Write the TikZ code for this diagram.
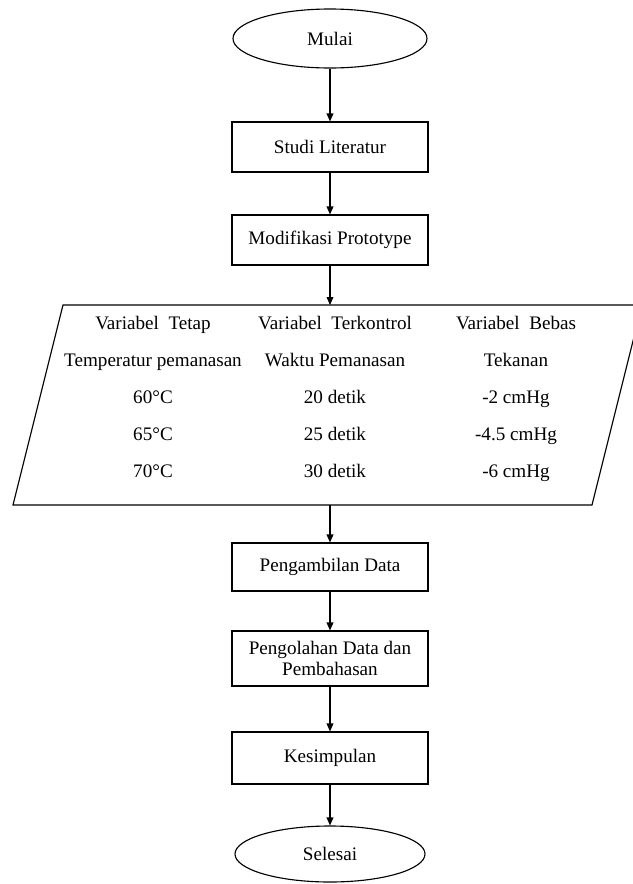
\documentclass[tikz,border=0pt]{standalone}
\usepackage{fontspec}
\setmainfont{Liberation Serif}
\usetikzlibrary{arrows.meta,shapes.geometric}
\tikzset{terminal/.style={draw,ellipse,line width=0.8pt,minimum width=4.85cm,minimum height=1.475cm,inner sep=0pt,font=\fontsize{13.6}{16}\selectfont}, process/.style={draw,rectangle,line width=0.8pt,minimum width=4.9cm,minimum height=1.25cm,align=center,inner sep=2pt,font=\fontsize{13.6}{15}\selectfont}, inout/.style={line width=0.8pt}, column/.style={anchor=north,align=center,inner sep=0pt,font=\fontsize{13.6}{26.3}\selectfont}, flow/.style={-{Triangle[length=2mm,width=1.7mm]},line width=0.8pt}}

\begin{document}
\begin{tikzpicture}
\useasboundingbox (0,0) rectangle (15.825,-22.1);
\node[terminal] (start) at (8.25,-0.9625) {Mulai};
\node[process] (study) at (8.25,-3.675) {Studi Literatur};
\node[process] (proto) at (8.25,-6) {Modifikasi Prototype};
% input / output block with the three variables
\draw[inout] (0.325,-12.625) -- (14.8,-12.625) -- (16.05,-7.625) -- (1.575,-7.625) -- cycle;
\coordinate (vtop) at (8.25,-7.625);
\coordinate (vbot) at (8.25,-12.625);
\node[column] (fixed) at (3.825,-7.9) {Variabel\ \ Tetap\\Temperatur pemanasan\\60°C\\65°C\\70°C};
\node[column] (ctrl) at (8.375,-7.9) {Variabel\ \ Terkontrol\\Waktu Pemanasan\\20 detik\\25 detik\\30 detik};
\node[column] (free) at (12.9,-7.9) {Variabel\ \ Bebas\\Tekanan\\-2 cmHg\\-4.5 cmHg\\-6 cmHg};
\node[process,minimum height=1.2cm] (data) at (8.25,-14.175) {Pengambilan Data};
\node[process,minimum height=1.375cm] (anal) at (8.25,-16.4625) {Pengolahan Data dan\\Pembahasan};
\node[process,minimum height=1.3cm] (concl) at (8.25,-18.95) {Kesimpulan};
\node[terminal,minimum width=4.75cm,minimum height=1.4cm] (stop) at (8.25,-21.35) {Selesai};
\draw[flow] (start)--(study);
\draw[flow] (study)--(proto);
\draw[flow] (proto)--(vtop);
\draw[flow] (vbot)--(data);
\draw[flow] (data)--(anal);
\draw[flow] (anal)--(concl);
\draw[flow] (concl)--(stop);
\end{tikzpicture}
\end{document}
